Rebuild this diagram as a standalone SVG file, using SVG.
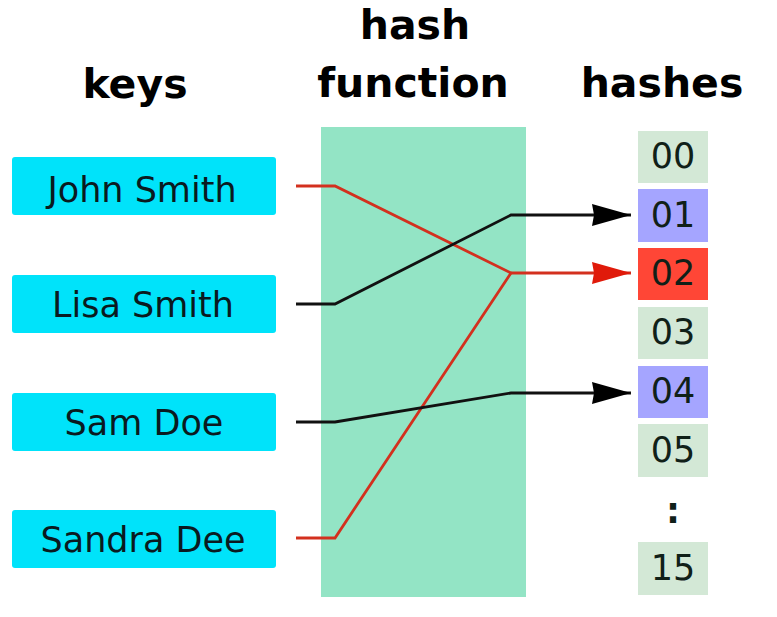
<svg xmlns="http://www.w3.org/2000/svg" width="777" height="617" viewBox="0 0 777 617">
<style>
.title{font-family:"DejaVu Sans",sans-serif;font-weight:bold;font-size:41px;fill:#000;text-anchor:middle}
.key rect{fill:#00e3fa}
.key text{font-family:"DejaVu Sans",sans-serif;font-size:35px;fill:#0a1a20;text-anchor:middle}
.hash text{font-family:"DejaVu Sans",sans-serif;font-size:35px;fill:#102018;text-anchor:middle}
.h0{fill:#d3e8d6}.h1{fill:#a5a5ff}.h2{fill:#ff4636}
.blk{fill:none;stroke:#111;stroke-width:2.8}
.red{fill:none;stroke:#d3301e;stroke-width:2.8}
</style>
<defs>
<marker id="ab" markerWidth="40" markerHeight="22" refX="39" refY="11" markerUnits="userSpaceOnUse" orient="auto">
<path d="M0,0 L39,11 L0,22 L2,11 Z" fill="#000"/>
</marker>
<marker id="ar" markerWidth="40" markerHeight="22" refX="39" refY="11" markerUnits="userSpaceOnUse" orient="auto">
<path d="M0,0 L39,11 L0,22 L2,11 Z" fill="#e01a0a"/>
</marker>
</defs>
<rect width="777" height="617" fill="#fff"/>
<g id="titles">
<text class="title" x="415" y="39">hash</text>
<text class="title" x="413" y="97">function</text>
<text class="title" x="135" y="98">keys</text>
<text class="title" x="662" y="97">hashes</text>
</g>
<g id="hashfunction"><rect x="321" y="127" width="205" height="470" fill="#93e4c5"/></g>
<g id="key-john" class="key"><rect x="12" y="157" width="264" height="58" rx="3"/><text x="142" y="202">John Smith</text></g>
<g id="key-lisa" class="key"><rect x="12" y="275" width="264" height="58" rx="3"/><text x="143" y="317">Lisa Smith</text></g>
<g id="key-sam" class="key"><rect x="12" y="393" width="264" height="58" rx="3"/><text x="144" y="435">Sam Doe</text></g>
<g id="key-sandra" class="key"><rect x="12" y="510" width="264" height="58" rx="3"/><text x="143" y="552">Sandra Dee</text></g>
<g id="h00" class="hash"><rect class="h0" x="638" y="131" width="70" height="52"/><text x="673" y="168">00</text></g>
<g id="h01" class="hash"><rect class="h1" x="638" y="189" width="70" height="53"/><text x="673" y="227">01</text></g>
<g id="h02" class="hash"><rect class="h2" x="638" y="248" width="70" height="52"/><text x="673" y="285">02</text></g>
<g id="h03" class="hash"><rect class="h0" x="638" y="307" width="70" height="52"/><text x="673" y="344">03</text></g>
<g id="h04" class="hash"><rect class="h1" x="638" y="366" width="70" height="52"/><text x="673" y="403">04</text></g>
<g id="h05" class="hash"><rect class="h0" x="638" y="424" width="70" height="53"/><text x="673" y="462">05</text></g>
<g id="dots" class="hash"><text x="673" y="523" font-weight="bold">:</text></g>
<g id="h15" class="hash"><rect class="h0" x="638" y="542" width="70" height="53"/><text x="673" y="580">15</text></g>
<g id="connectors">
<polyline class="red" points="296,186 335,186 511,273"/>
<polyline class="red" points="296,538 335,538 511,273"/>
<polyline class="red" points="511,273 631,273" marker-end="url(#ar)"/>
<polyline class="blk" points="296,304 335,304 511,215 631,215" marker-end="url(#ab)"/>
<polyline class="blk" points="296,422 335,422 511,393 631,393" marker-end="url(#ab)"/>
</g>
</svg>
